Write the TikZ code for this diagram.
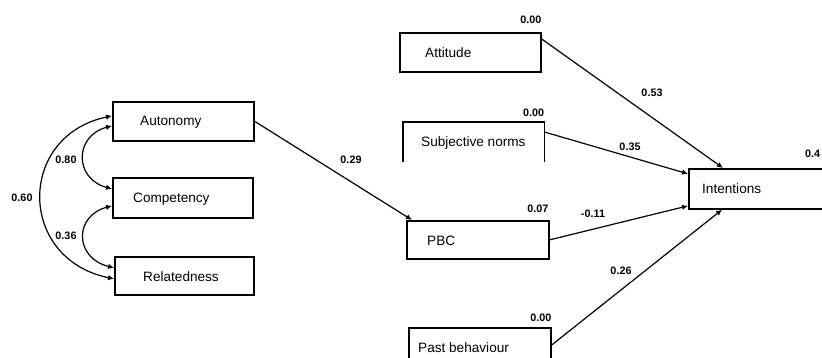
\documentclass[tikz,border=0pt]{standalone}
\usepackage{fontspec}
\setmainfont{Liberation Sans}
\usetikzlibrary{arrows.meta}
\begin{document}
\begin{tikzpicture}[x=1pt,y=-1pt,
  box/.style={draw,line width=1.7pt,inner sep=0pt,anchor=north west},
  txt/.style={font=\fontsize{13.6}{14}\selectfont,anchor=west,inner sep=0pt},
  num/.style={font=\bfseries\fontsize{10.8}{11}\selectfont,inner sep=0pt},
  path/.style={line width=1.2pt,-{Latex[length=6pt,width=5.5pt]}},
  cov/.style={line width=1.2pt,{Latex[length=6pt,width=5.5pt]}-{Latex[length=6pt,width=5.5pt]}}]
\clip (0,0) rectangle (822,358);
\fill[white] (0,0) rectangle (822,358);
% left boxes
\node[box,minimum width=141pt,minimum height=39pt] (aut) at (112,101) {};
\node[box,minimum width=140pt,minimum height=40pt] (com) at (112,177) {};
\node[box,minimum width=139pt,minimum height=38pt] (rel) at (114,256) {};
\node[txt] at ([xshift=28pt,yshift=-1pt]aut.west) {Autonomy};
\node[txt] at ([xshift=21pt,yshift=-1pt]com.west) {Competency};
\node[txt] at ([xshift=29pt,yshift=-1pt]rel.west) {Relatedness};
% right boxes
\node[box,minimum width=141pt,minimum height=39pt] (att) at (399,32) {};
\node[inner sep=0pt,minimum width=141pt,minimum height=40pt,anchor=north west] (sn) at (403,122) {};
\draw[line width=1.7pt] (sn.south west) -- (sn.north west) -- (sn.north east) -- (sn.south east);
\node[box,minimum width=142pt,minimum height=38pt] (pbc) at (406,220) {};
\node[box,minimum width=142pt,minimum height=45pt] (pb) at (408,327) {};
\node[box,minimum width=150pt,minimum height=40pt] (int) at (688,168) {};
\node[txt] at ([xshift=26pt]att.west) {Attitude};
\node[txt] at (421,143) {Subjective norms};
\node[txt] at ([xshift=21pt,yshift=-1pt]pbc.west) {PBC};
\node[txt] at (418,348) {Past behaviour};
\node[txt] at ([xshift=14pt]int.west) {Intentions};
% labels on boxes
\node[num,anchor=south east] at ([yshift=8pt]att.north east) {0.00};
\node[num,anchor=south east] at ([yshift=5pt]sn.north east) {0.00};
\node[num,anchor=south east] at ([xshift=-1pt,yshift=7pt]pbc.north east) {0.07};
\node[num,anchor=south east] at ([yshift=5pt]pb.north east) {0.00};
\node[num,anchor=south west] at (805,158) {0.4};
% covariances
\draw[cov] ([yshift=5.5pt]aut.west) .. controls +(-95,20) and +(-97,-20) .. ([yshift=-3pt]rel.west);
\draw[cov] ([yshift=-4.5pt]aut.west) .. controls +(-38,10) and +(-38,-10) .. ([yshift=9pt]com.west);
\draw[cov] ([yshift=-8pt]com.west) .. controls +(-38,10) and +(-40,-10) .. ([yshift=8pt]rel.west);
\node[num] at (22,198) {0.60};
\node[num] at (66,160) {0.80};
\node[num] at (66,236) {0.36};
% paths
\draw[path] (aut.east) -- ([xshift=6pt]pbc.north west);
\node[num] at (351,160) {0.29};
\draw[path] ([yshift=-7pt]att.north east) -- ([xshift=35pt]int.north west);
\node[num] at (652,93) {0.53};
\draw[path] ([yshift=-10pt]sn.north east) -- ([yshift=15pt]int.west);
\node[num] at (630,147) {0.35};
\draw[path] (pbc.east) -- ([yshift=-17pt]int.west);
\node[num] at (593,214) {-0.11};
\draw[path] ([yshift=-18pt]pb.north east) -- ([xshift=34pt]int.south west);
\node[num] at (621,271) {0.26};
\end{tikzpicture}
\end{document}
